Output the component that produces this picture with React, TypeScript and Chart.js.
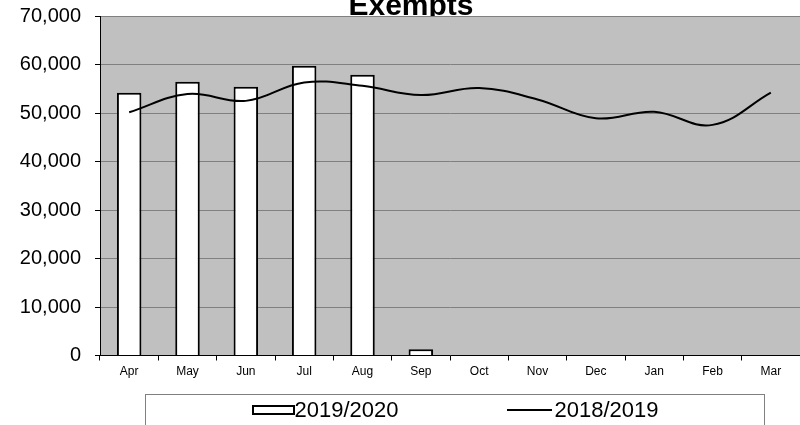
import React, { useEffect, useRef } from "react";
import { Chart, registerables } from "chart.js";

Chart.register(...registerables);

// Months of the financial year
const months = ["Apr", "May", "Jun", "Jul", "Aug", "Sep", "Oct", "Nov", "Dec", "Jan", "Feb", "Mar"];

// Current year exempts (reported months only)
const exempts20192020: (number | null)[] = [54200, 56450, 55420, 59750, 57900, 1280, null, null, null, null, null, null];

// Previous year exempts
const exempts20182019: number[] = [50150, 53900, 52500, 56300, 55600, 53700, 55150, 52800, 48900, 50250, 47550, 54200];

// Value axis ticks
const yTicks = [0, 10000, 20000, 30000, 40000, 50000, 60000, 70000];

const chartTitle = "Exempts";
const seriesNames = ["2019/2020", "2018/2019"];

const FONT = "'Liberation Sans', Arial, sans-serif";

// Title drawn first so the grey plot background hides its lower edge,
// then the plot background itself.
const backdropPlugin = {
  id: "backdrop",
  beforeDraw(chart: any) {
    const { ctx, chartArea } = chart;
    ctx.save();
    ctx.fillStyle = "#000";
    ctx.font = `bold 30px ${FONT}`;
    ctx.textAlign = "center";
    ctx.textBaseline = "alphabetic";
    ctx.fillText(chartTitle, chart.width / 2 + 11, chartArea.top - 1);
    ctx.fillStyle = "#c0c0c0";
    ctx.fillRect(chartArea.left, chartArea.top, chartArea.right - chartArea.left, chartArea.bottom - chartArea.top);
    ctx.restore();
  },
};

export default function App() {
  const canvasRef = useRef<HTMLCanvasElement | null>(null);

  useEffect(() => {
    if (!canvasRef.current) return;
    const chart = new Chart(canvasRef.current, {
      type: "bar",
      data: {
        labels: months,
        datasets: [
          {
            type: "line",
            label: seriesNames[1],
            data: exempts20182019,
            borderColor: "#000",
            borderWidth: 2,
            pointRadius: 0,
            tension: 0.4,
            fill: false,
            order: 0,
          } as any,
          {
            type: "bar",
            label: seriesNames[0],
            data: exempts20192020,
            backgroundColor: "#fff",
            borderColor: "#000",
            borderWidth: 2,
            categoryPercentage: 1,
            barPercentage: 0.42,
            order: 1,
          },
        ],
      },
      options: {
        responsive: false,
        animation: false,
        layout: { padding: { top: 16, right: 0, left: 0, bottom: 0 } },
        plugins: {
          legend: { display: false },
          title: { display: false },
          tooltip: { enabled: false },
        },
        scales: {
          x: {
            offset: true,
            grid: {
              offset: true,
              drawOnChartArea: false,
              drawTicks: true,
              tickLength: 5,
              tickColor: "#000",
            },
            border: { color: "#000", width: 1 },
            ticks: {
              color: "#000",
              font: { family: FONT, size: 12 },
              padding: 4,
              maxRotation: 0,
              autoSkip: false,
            },
            afterFit(scale: any) {
              scale.height = 69.5;
              scale.paddingLeft = 0;
              scale.paddingRight = 0;
            },
          },
          y: {
            min: yTicks[0],
            max: yTicks[yTicks.length - 1],
            afterBuildTicks(scale: any) {
              scale.ticks = yTicks.map((v) => ({ value: v }));
            },
            grid: {
              color: "#808080",
              lineWidth: 1,
              tickLength: 5,
              tickColor: "#000",
            },
            border: { color: "#000", width: 1 },
            ticks: {
              color: "#000",
              font: { family: FONT, size: 20 },
              padding: 14,
              callback: (v: any) => Number(v).toLocaleString("en-US"),
            },
            afterFit(scale: any) {
              scale.width = 100;
              scale.paddingTop = 0;
              scale.paddingBottom = 0;
            },
          },
        },
      },
      plugins: [backdropPlugin],
    });
    return () => chart.destroy();
  }, []);

  return (
    <div style={{ position: "absolute", left: 0, top: 0, width: 800, height: 425, overflow: "hidden", background: "#fff" }}>
      <canvas ref={canvasRef} width={800} height={425} style={{ display: "block" }} />
      <div
        style={{
          position: "absolute",
          left: 145,
          top: 394,
          width: 620,
          height: 40,
          border: "1px solid #808080",
          boxSizing: "border-box",
          paddingTop: 4,
          display: "flex",
          justifyContent: "center",
          alignItems: "flex-start",
          fontFamily: FONT,
          fontSize: 22,
          lineHeight: "22px",
          color: "#000",
        }}
      >
        <div style={{ display: "flex", alignItems: "center", height: 22 }}>
          <div style={{ width: 43, height: 10, border: "2px solid #000", boxSizing: "border-box", background: "#fff" }} />
          <span>{seriesNames[0]}</span>
        </div>
        <div style={{ display: "flex", alignItems: "center", height: 22, marginLeft: 108 }}>
          <div style={{ width: 45, height: 2, background: "#000", marginRight: 3 }} />
          <span>{seriesNames[1]}</span>
        </div>
      </div>
    </div>
  );
}
